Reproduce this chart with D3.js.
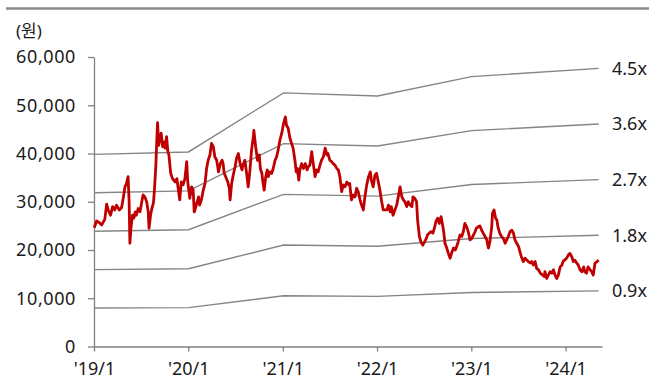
<!DOCTYPE html>
<html>
<head>
<meta charset="utf-8">
<script src="https://cdn.jsdelivr.net/npm/d3@7"></script>
<style>
  html, body { margin: 0; padding: 0; background: #fff; }
  svg { display: block; }
  text { font-family: "Noto Sans", "Noto Sans CJK KR", sans-serif; fill: #1a1a1a; }
</style>
</head>
<body>
<svg id="chart" width="649" height="381"></svg>
<script>
// Share price (KRW), approximately weekly closes
const price = [
  ["2019-01-02",24600],["2019-01-11",26000],["2019-01-21",25700],["2019-01-31",25200],["2019-02-12",26400],
  ["2019-02-19",29500],["2019-02-25",28300],["2019-03-06",27200],["2019-03-14",29000],["2019-03-22",28300],
  ["2019-03-29",29300],["2019-04-09",28300],["2019-04-18",28800],["2019-04-24",30700],["2019-05-01",33100],
  ["2019-05-07",33800],["2019-05-13",35200],["2019-05-17",30000],["2019-05-20",21400],["2019-05-24",24500],
  ["2019-05-30",27200],["2019-06-04",26600],["2019-06-10",27900],["2019-06-14",27200],["2019-06-21",28600],
  ["2019-06-28",27900],["2019-07-04",29700],["2019-07-10",31400],["2019-07-17",31000],["2019-07-24",30000],
  ["2019-07-30",27900],["2019-08-02",24500],["2019-08-08",27200],["2019-08-13",28600],["2019-08-19",29700],
  ["2019-08-22",31700],["2019-08-28",36900],["2019-09-02",43800],["2019-09-04",46400],["2019-09-09",41700],
  ["2019-09-13",43100],["2019-09-18",44200],["2019-09-24",41400],["2019-09-30",42400],["2019-10-04",41100],
  ["2019-10-09",43500],["2019-10-14",40400],["2019-10-18",39700],["2019-10-25",35900],["2019-11-01",34800],
  ["2019-11-11",34100],["2019-11-18",34800],["2019-11-22",33100],["2019-11-29",30400],["2019-12-05",34100],
  ["2019-12-12",33500],["2019-12-19",34800],["2019-12-26",38300],["2019-12-30",34100],["2020-01-03",32400],
  ["2020-01-07",30700],["2020-01-14",33100],["2020-01-20",32400],["2020-01-24",27900],["2020-01-27",28300],
  ["2020-02-03",29700],["2020-02-10",31000],["2020-02-14",29300],["2020-02-21",30400],["2020-02-28",32400],
  ["2020-03-06",33800],["2020-03-12",36900],["2020-03-18",38600],["2020-03-25",39700],["2020-03-31",42100],
  ["2020-04-07",41400],["2020-04-13",39300],["2020-04-20",38600],["2020-04-27",36200],["2020-05-04",37900],
  ["2020-05-11",38600],["2020-05-15",37900],["2020-05-19",35900],["2020-05-25",35200],["2020-06-02",34100],
  ["2020-06-08",32800],["2020-06-11",30400],["2020-06-17",33800],["2020-06-23",35500],["2020-06-30",37200],
  ["2020-07-06",39000],["2020-07-13",40000],["2020-07-20",37900],["2020-07-27",36600],["2020-07-31",37600],
  ["2020-08-07",38600],["2020-08-14",35900],["2020-08-20",33100],["2020-08-27",36600],["2020-09-02",40700],
  ["2020-09-09",43500],["2020-09-11",44800],["2020-09-18",41400],["2020-09-25",38600],["2020-10-02",39700],
  ["2020-10-06",36900],["2020-10-12",35900],["2020-10-16",34100],["2020-10-21",32400],["2020-10-27",35200],
  ["2020-11-02",36600],["2020-11-06",35200],["2020-11-12",36200],["2020-11-19",35900],["2020-11-25",36900],
  ["2020-12-02",38600],["2020-12-08",39300],["2020-12-14",40700],["2020-12-21",42800],["2020-12-28",44200],
  ["2021-01-04",46200],["2021-01-11",47600],["2021-01-15",45900],["2021-01-22",45200],["2021-01-29",43100],
  ["2021-02-04",42100],["2021-02-10",41100],["2021-02-17",38600],["2021-02-22",36200],["2021-02-26",36900],
  ["2021-03-04",34500],["2021-03-08",36600],["2021-03-15",37900],["2021-03-22",36900],["2021-03-29",37900],
  ["2021-04-05",36600],["2021-04-09",37200],["2021-04-16",37600],["2021-04-23",40400],["2021-04-29",37900],
  ["2021-05-06",35200],["2021-05-12",36600],["2021-05-18",36200],["2021-05-25",37600],["2021-05-31",38600],
  ["2021-06-07",39300],["2021-06-14",41100],["2021-06-21",39700],["2021-06-25",40000],["2021-07-02",38600],
  ["2021-07-09",38300],["2021-07-15",37900],["2021-07-22",37600],["2021-07-29",36900],["2021-08-04",36600],
  ["2021-08-10",35200],["2021-08-17",32100],["2021-08-23",33500],["2021-08-30",33100],["2021-09-06",34100],
  ["2021-09-13",33500],["2021-09-17",33800],["2021-09-24",30400],["2021-10-01",31400],["2021-10-07",31000],
  ["2021-10-14",32800],["2021-10-20",32100],["2021-10-27",30400],["2021-11-02",29300],["2021-11-09",28300],
  ["2021-11-15",31000],["2021-11-22",33500],["2021-11-29",35200],["2021-12-06",36200],["2021-12-10",34500],
  ["2021-12-17",33100],["2021-12-24",35500],["2021-12-30",35900],["2022-01-06",34100],["2022-01-12",32400],
  ["2022-01-19",30000],["2022-01-25",28300],["2022-02-08",28300],["2022-02-14",29300],["2022-02-21",27900],
  ["2022-02-25",29000],["2022-03-04",27200],["2022-03-11",28300],["2022-03-18",29300],["2022-03-24",31000],
  ["2022-03-31",33100],["2022-04-07",31000],["2022-04-13",30400],["2022-04-19",30000],["2022-04-26",29000],
  ["2022-05-02",30000],["2022-05-09",29300],["2022-05-16",29000],["2022-05-20",31000],["2022-05-27",30700],
  ["2022-06-03",30000],["2022-06-07",26200],["2022-06-14",22800],["2022-06-20",21700],["2022-06-27",21000],
  ["2022-07-04",21700],["2022-07-11",22400],["2022-07-15",23100],["2022-07-22",23500],["2022-07-29",23800],
  ["2022-08-05",23500],["2022-08-11",24500],["2022-08-17",25900],["2022-08-24",26600],["2022-08-30",25500],
  ["2022-09-06",26900],["2022-09-13",24800],["2022-09-16",23800],["2022-09-21",21400],["2022-09-28",20400],
  ["2022-10-04",19300],["2022-10-11",18300],["2022-10-18",19600],["2022-10-24",20400],["2022-10-31",20000],
  ["2022-11-07",21000],["2022-11-11",21700],["2022-11-18",23100],["2022-11-25",22800],["2022-12-01",23800],
  ["2022-12-07",25500],["2022-12-14",24800],["2022-12-20",23800],["2022-12-27",22100],["2023-01-03",22400],
  ["2023-01-09",23100],["2023-01-16",23800],["2023-01-20",24500],["2023-01-27",24800],["2023-02-03",25000],
  ["2023-02-10",24100],["2023-02-16",23500],["2023-02-23",22800],["2023-03-02",22100],["2023-03-08",20400],
  ["2023-03-14",21700],["2023-03-21",24800],["2023-03-24",27600],["2023-03-30",28300],["2023-04-05",26600],
  ["2023-04-10",26200],["2023-04-14",24800],["2023-04-21",23500],["2023-04-28",22800],["2023-05-05",22400],
  ["2023-05-12",21400],["2023-05-18",22100],["2023-05-24",22800],["2023-05-31",23800],["2023-06-07",24100],
  ["2023-06-13",23500],["2023-06-19",22100],["2023-06-26",21400],["2023-07-03",20700],["2023-07-10",19300],
  ["2023-07-14",18600],["2023-07-21",17600],["2023-07-28",18300],["2023-08-04",17900],["2023-08-10",17600],
  ["2023-08-17",17300],["2023-08-23",17600],["2023-08-29",16900],["2023-09-05",17600],["2023-09-11",16200],
  ["2023-09-18",15900],["2023-09-25",15200],["2023-10-04",14800],["2023-10-10",14500],["2023-10-13",15500],
  ["2023-10-20",14100],["2023-10-26",14800],["2023-11-02",15500],["2023-11-09",15200],["2023-11-15",15900],
  ["2023-11-21",14800],["2023-11-28",14100],["2023-12-04",14800],["2023-12-11",16500],["2023-12-18",16900],
  ["2023-12-22",17600],["2023-12-28",17900],["2024-01-05",18300],["2024-01-12",19000],["2024-01-18",19300],
  ["2024-01-25",18600],["2024-01-31",17600],["2024-02-06",17900],["2024-02-13",17300],["2024-02-19",16900],
  ["2024-02-26",15900],["2024-03-04",15500],["2024-03-11",16500],["2024-03-15",15500],["2024-03-22",15200],
  ["2024-03-28",16500],["2024-04-05",15900],["2024-04-11",15500],["2024-04-17",14800],["2024-04-24",17300],
  ["2024-05-02",17600],["2024-05-08",17900]
];

// Book value per share at each anchor date (band lines are BPS x multiple)
const bpsDates = ["2019-01-02", "2020-01-02", "2021-01-04", "2022-01-03", "2023-01-02", "2024-05-08"];
const bps = [8850, 8960, 11680, 11540, 12430, 12810];
const multiples = [0.9, 1.8, 2.7, 3.6, 4.5];

const yTicks = [0, 10000, 20000, 30000, 40000, 50000, 60000];
const xTicks = ["2019-01-01", "2020-01-01", "2021-01-01", "2022-01-01", "2023-01-01", "2024-01-01"];
const unitLabel = "(원)";

const parse = d3.timeParse("%Y-%m-%d");
const svg = d3.select("#chart");

const x = d3.scaleTime()
  .domain([parse("2019-01-01"), parse("2024-05-21")])
  .range([94, 602]);
const y = d3.scaleLinear().domain([0, 60000]).range([346.5, 57]);

// top rule
svg.append("line")
  .attr("x1", 6).attr("x2", 649).attr("y1", 8.5).attr("y2", 8.5)
  .attr("stroke", "#8a8a8a").attr("stroke-width", 2.5);

// unit label
svg.append("text").attr("x", 16).attr("y", 37)
  .attr("font-size", 17).text(unitLabel);

// y axis
const yAxis = svg.append("g")
  .attr("transform", "translate(94,0)")
  .call(d3.axisLeft(y).tickValues(yTicks).tickFormat(d3.format(",")).tickSize(6).tickSizeOuter(0).tickPadding(12));

// x axis
const xAxis = svg.append("g")
  .attr("transform", "translate(0,346.5)")
  .call(d3.axisBottom(x).tickValues(xTicks.map(parse)).tickFormat(d3.timeFormat("'%y/%-m")).tickSize(5).tickSizeOuter(0).tickPadding(11));

[yAxis, xAxis].forEach(g => {
  g.select(".domain").attr("stroke", "#808080").attr("stroke-width", 1.3);
  g.selectAll(".tick line").attr("stroke", "#808080").attr("stroke-width", 1.3);
  g.selectAll(".tick text").attr("font-size", 18).attr("fill", "#1a1a1a")
    .attr("font-family", "'Noto Sans', sans-serif");
});
yAxis.selectAll(".tick text").attr("letter-spacing", 0.6);

// PBR band lines
const bandLine = d3.line().x(d => x(d[0])).y(d => y(d[1]));
const bandData = multiples.map(m => ({
  m,
  pts: bpsDates.map((d, i) => [parse(d), bps[i] * m])
}));

svg.append("g").selectAll("path").data(bandData).join("path")
  .attr("d", d => bandLine(d.pts))
  .attr("fill", "none").attr("stroke", "#858585").attr("stroke-width", 1.4);

// band labels at the right end
svg.append("g").selectAll("text").data(bandData).join("text")
  .attr("x", 612)
  .attr("y", d => y(d.pts[d.pts.length - 1][1]))
  .attr("dy", "0.35em")
  .attr("font-size", 18)
  .text(d => d.m.toFixed(1) + "x");

// price line
const priceLine = d3.line().x(d => x(parse(d[0]))).y(d => y(d[1]));
svg.append("path")
  .attr("d", priceLine(price))
  .attr("fill", "none").attr("stroke", "#c00000").attr("stroke-width", 2.8)
  .attr("stroke-linejoin", "round");
</script>
</body>
</html>
